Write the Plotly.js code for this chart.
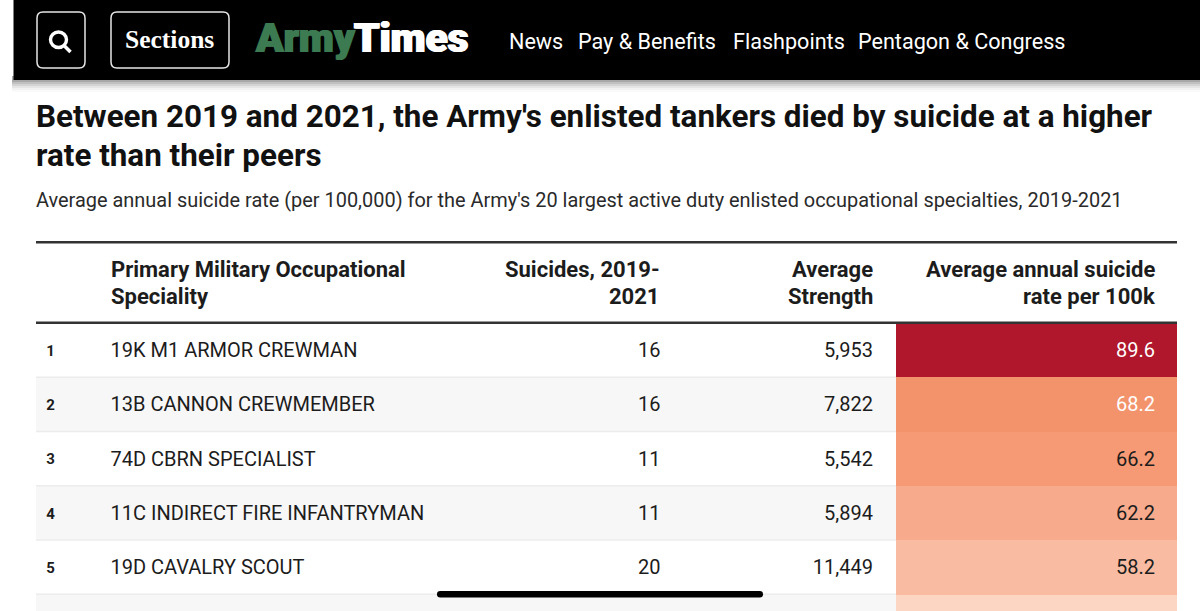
<!DOCTYPE html>
<html><head><meta charset="utf-8">
<script src="https://cdn.plot.ly/plotly-3.0.1.min.js"></script>
<style>html,body{margin:0;padding:0;background:#fff;overflow:hidden}</style>
</head><body><div id="chart" style="width:1200px;height:611px"></div>
<script>
// ---- data ----
const ranks = ["1","2","3","4","5"];
const specialties = ["19K M1 ARMOR CREWMAN","13B CANNON CREWMEMBER","74D CBRN SPECIALIST","11C INDIRECT FIRE INFANTRYMAN","19D CAVALRY SCOUT"];
const suicides = ["16","16","11","11","20"];
const strength = ["5,953","7,822","5,542","5,894","11,449"];
const rates = [89.6,68.2,66.2,62.2,58.2];
const nextRowRate = 52; // row 6 is cut off by the screen; only its cell colour shows
const columnHeaders = [["Primary Military Occupational","Speciality"],["Suicides, 2019-","2021"],["Average","Strength"],["Average annual suicide","rate per 100k"]];
const titleLines = ["Between 2019 and 2021, the Army's enlisted tankers died by suicide at a higher","rate than their peers"];
const subtitle = "Average annual suicide rate (per 100,000) for the Army's 20 largest active duty enlisted occupational specialties, 2019-2021";
const navItems = ["News","Pay & Benefits","Flashpoints","Pentagon & Congress"];

// ---- colour ramp ----
const rampValues = [52,58.2,62.2,66.2,68.2,89.6];
const rampColors = ["#fcd6c3","#f9bca2","#f7ab8c","#f59a74","#f3936c","#b0172c"];
const zMin = rampValues[0], zMax = rampValues[rampValues.length-1];
const colorscale = rampValues.map((v,i)=>[(v-zMin)/(zMax-zMin),rampColors[i]]);

// ---- layout geometry ----
const W=1200,H=611, rowH=54.3, firstRowCenter=350, textNudge=2/rowH;
const py = p => 1-p/H;                          // page pixel -> paper y
const yMin=(H-firstRowCenter)/rowH+1, yMax=(0-firstRowCenter)/rowH+1;
const xRank=50.5, xName=110.5, xSuic=660.5, xStr=873, xRate=1155, tableL=36, tableR=1177, rateL=896;
const INK="#1c1c1c", ROBOTO="Roboto, sans-serif";

const rows=[...rates,nextRowRate].map((_,i)=>i+1);
const yEdges=[...rows.map(r=>r-0.5),rows.length+0.5];

const textTrace=(x,text,pos,size,opts={})=>({type:"scatter",mode:"text",x:ranks.map(()=>x),y:ranks.map((_,i)=>i+1+textNudge),
  text,textposition:pos,cliponaxis:false,hoverinfo:"skip",showlegend:false,
  textfont:{family:ROBOTO,size,color:opts.color||INK,weight:opts.weight||400}});

const traces=[
 {type:"heatmap",x:[rateL,tableR],y:yEdges,z:[...rates,nextRowRate].map(v=>[v]),zmin:zMin,zmax:zMax,colorscale,showscale:false,hoverinfo:"skip"},
 textTrace(xRank,ranks,"middle center",15,{weight:700}),
 textTrace(xName,specialties,"middle right",20),
 textTrace(xSuic,suicides,"middle left",20),
 textTrace(xStr,strength,"middle left",20),
 textTrace(xRate,rates.map(v=>v.toFixed(1)),"middle left",20,{color:rates.map(v=>v>=68?"#ffffff":INK)}),
];

// shapes
const shapes=[];
const rect=(x0,y0,x1,y1,fill,layer="above")=>shapes.push({type:"rect",xref:"x",yref:"paper",x0,x1,y0:py(y0),y1:py(y1),fillcolor:fill,line:{width:0},layer});
const rrect=(x0,y0,x1,y1,r,o)=>{const f=(x,y)=>`${x},${py(y)}`;
 shapes.push({type:"path",xref:"x",yref:"paper",layer:"above",
  path:`M${f(x0+r,y0)} L${f(x1-r,y0)} Q${f(x1,y0)} ${f(x1,y0+r)} L${f(x1,y1-r)} Q${f(x1,y1)} ${f(x1-r,y1)} L${f(x0+r,y1)} Q${f(x0,y1)} ${f(x0,y1-r)} L${f(x0,y0+r)} Q${f(x0,y0)} ${f(x0+r,y0)} Z`,
  fillcolor:o.fill||"rgba(0,0,0,0)",line:{width:o.lw||0,color:o.lc||"rgba(0,0,0,0)"}});};
// stripes
[2,4,6].forEach(r=>shapes.push({type:"rect",xref:"x",yref:"y",x0:tableL,x1:rateL,y0:r-0.5,y1:r+0.5,fillcolor:"#f7f7f7",line:{width:0},layer:"below"}));
[1,2,3,4,5].forEach(r=>shapes.push({type:"line",xref:"x",yref:"y",x0:tableL,x1:rateL,y0:r+0.5,y1:r+0.5,line:{color:"#ececec",width:1.5},layer:"below"}));
// header rules
rect(tableL,241,tableR,243.5,"#333333");
rect(tableL,321.5,tableR,324,"#333333");
// masthead shadow + bar
[[92,.02],[90,.03],[88,.05],[86,.07],[84,.09],[82,.12]].forEach(([b,a])=>rect(12,76,W,b,`rgba(0,0,0,${a})`,"below"));
rect(13.5,0,W,80,"#000000");
rrect(37,12,85,68,6,{lw:1.5,lc:"#e6e6e6"});
rrect(111,12,229,68,6,{lw:1.5,lc:"#e6e6e6"});
// magnifier
shapes.push({type:"circle",xref:"x",yref:"paper",x0:50.5,x1:66.5,y0:py(32),y1:py(47.5),line:{color:"#fff",width:3.4},fillcolor:"rgba(0,0,0,0)",layer:"above"});
shapes.push({type:"line",xref:"x",yref:"paper",x0:63.5,x1:70.5,y0:py(45),y1:py(52),line:{color:"#fff",width:3.6},layer:"above"});
// home indicator
rrect(437,591,763,597.5,3.2,{fill:"#000000"});

const ann=[];
const note=(text,x,yPx,size,o={})=>ann.push({text,xref:"x",yref:"paper",x,y:py(yPx),xanchor:o.anchor||"left",yanchor:"middle",align:o.align||o.anchor||"left",
 showarrow:false,borderpad:0,font:{family:o.family||ROBOTO,size,color:o.color||INK,weight:o.weight||400,shadow:o.shadow||"none"}});
note("Sections",124,39.5,25.5,{family:"'Liberation Serif',serif",color:"#fff",weight:700});
note("Army",253.5,38.5,40.5,{color:"#3c7a51",weight:900,shadow:"0.9px 0 0 #3c7a51, -0.9px 0 0 #3c7a51"});
note("Times",353,38.5,40.5,{color:"#fff",weight:900,shadow:"0.9px 0 0 #fff, -0.9px 0 0 #fff"});
[508,577,732,857].forEach((x,i)=>note(navItems[i].replace("&","&amp;"),x,41,21.6,{color:"#fff"}));
note(titleLines[0],34.5,116.5,31.4,{weight:700,color:"#111"});
note(titleLines[1],34.5,155,31.4,{weight:700,color:"#111"});
note(subtitle,34.7,200,19.93,{color:"#2a2a2a"});
const hdrX=[109.5,661,874,1156], hdrAnchor=["left","right","right","right"], hdrY=[269.5,296.5];
columnHeaders.forEach((lines,c)=>lines.forEach((t,l)=>note(t,hdrX[c],hdrY[l],22,{weight:700,anchor:hdrAnchor[c]})));

Plotly.newPlot("chart",traces,{
 width:W,height:H,margin:{l:0,r:0,t:0,b:0},paper_bgcolor:"#fff",plot_bgcolor:"#fff",showlegend:false,
 xaxis:{range:[0,W],visible:false,fixedrange:true},
 yaxis:{range:[yMin,yMax],visible:false,fixedrange:true},
 shapes,annotations:ann
},{displayModeBar:false,staticPlot:true});
</script></body></html>
